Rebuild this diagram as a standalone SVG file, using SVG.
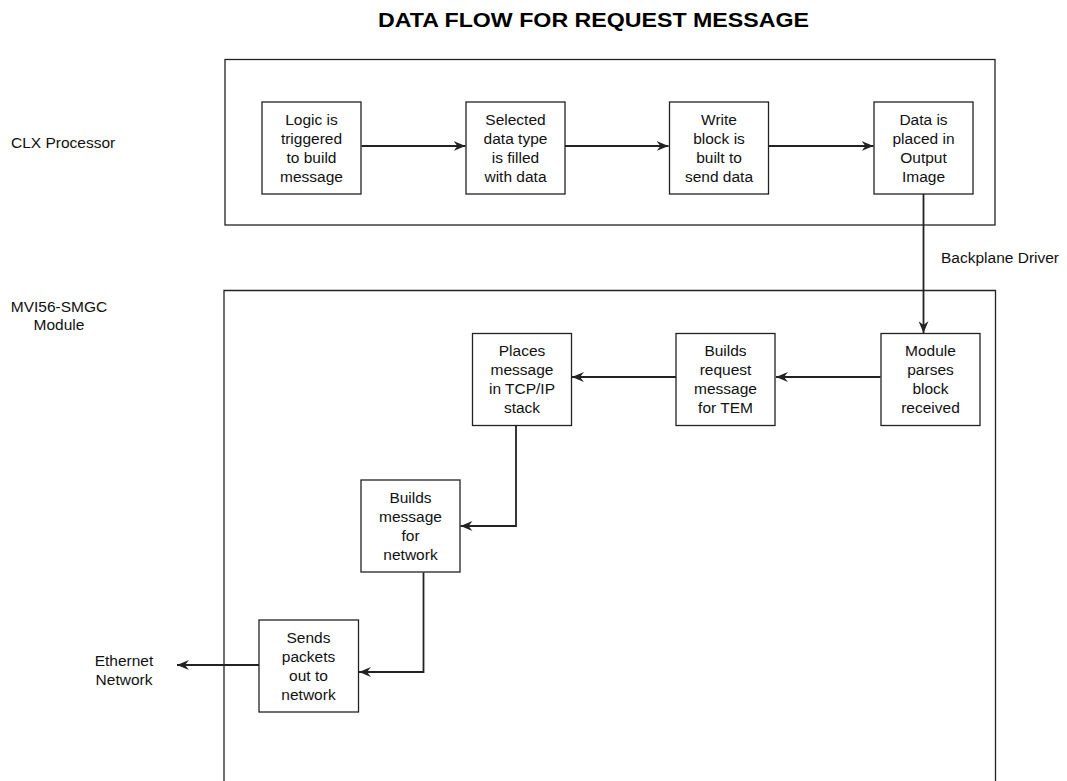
<svg xmlns="http://www.w3.org/2000/svg" width="1067" height="781" viewBox="0 0 1067 781">
<style>
.frame{fill:none;stroke:#222;stroke-width:1.3}
.box{fill:#fff;stroke:#222;stroke-width:1.3}
.t{font-family:"Liberation Sans",Arial,sans-serif;font-size:15.5px;fill:#111;text-anchor:middle}
.lbl{font-family:"Liberation Sans",Arial,sans-serif;font-size:15.5px;fill:#111}
.title{font-family:"Liberation Sans",Arial,sans-serif;font-size:20px;font-weight:bold;fill:#000;text-anchor:middle}
.c{fill:none;stroke:#222;stroke-width:1.8;marker-end:url(#ah)}
</style>
<defs>
<marker id="ah" markerUnits="userSpaceOnUse" markerWidth="14" markerHeight="10" refX="12" refY="5" orient="auto">
<path d="M0,0 L12,5 L0,10 L4,5 z" fill="#222"/>
</marker>
</defs>
<rect width="1067" height="781" fill="#fff"/>
<text class="title" x="593.5" y="27" textLength="431" lengthAdjust="spacingAndGlyphs">DATA FLOW FOR REQUEST MESSAGE</text>

<g id="clx-processor">
<rect class="frame" x="225" y="59.5" width="770" height="165.5"/>
<text class="lbl" x="11" y="148">CLX Processor</text>
</g>
<g id="mvi56-module">
<path class="frame" d="M224,800 V290.5 H995.5 V800"/>
<text class="lbl" x="59" y="312" text-anchor="middle">MVI56-SMGC</text>
<text class="lbl" x="59" y="330" text-anchor="middle">Module</text>
</g>
<g id="backplane-label"><text class="lbl" x="941" y="263">Backplane Driver</text></g>
<g id="ethernet-label">
<text class="lbl" x="124" y="666" text-anchor="middle">Ethernet</text>
<text class="lbl" x="124" y="685" text-anchor="middle">Network</text>
</g>

<g id="connectors">
<path class="c" d="M361.5,146 H465.5"/>
<path class="c" d="M565,146 H668.5"/>
<path class="c" d="M769,146 H873.5"/>
<path class="c" d="M923.5,194 V333"/>
<path class="c" d="M880.5,377 H776"/>
<path class="c" d="M676,377 H572"/>
<path class="c" d="M516,425.5 V526 H460.5"/>
<path class="c" d="M423.5,572.5 V672 H359"/>
<path class="c" d="M263,665 H177"/>
</g>

<g id="n-logic">
<rect class="box" x="262" y="102" width="99" height="92"/>
<text class="t" x="311.5" y="125">Logic is</text>
<text class="t" x="311.5" y="144">triggered</text>
<text class="t" x="311.5" y="163">to build</text>
<text class="t" x="311.5" y="182">message</text>
</g>
<g id="n-selected">
<rect class="box" x="466" y="102" width="99" height="92"/>
<text class="t" x="515.5" y="125">Selected</text>
<text class="t" x="515.5" y="144">data type</text>
<text class="t" x="515.5" y="163">is filled</text>
<text class="t" x="515.5" y="182">with data</text>
</g>
<g id="n-write">
<rect class="box" x="669.5" y="102" width="99" height="92"/>
<text class="t" x="719" y="125">Write</text>
<text class="t" x="719" y="144">block is</text>
<text class="t" x="719" y="163">built to</text>
<text class="t" x="719" y="182">send data</text>
</g>
<g id="n-output">
<rect class="box" x="874" y="102" width="99" height="92"/>
<text class="t" x="923.5" y="125">Data is</text>
<text class="t" x="923.5" y="144">placed in</text>
<text class="t" x="923.5" y="163">Output</text>
<text class="t" x="923.5" y="182">Image</text>
</g>
<g id="n-parses">
<rect class="box" x="881" y="333.5" width="99" height="92"/>
<text class="t" x="930.5" y="356">Module</text>
<text class="t" x="930.5" y="375">parses</text>
<text class="t" x="930.5" y="394">block</text>
<text class="t" x="930.5" y="413">received</text>
</g>
<g id="n-request">
<rect class="box" x="676" y="333.5" width="99" height="92"/>
<text class="t" x="725.5" y="356">Builds</text>
<text class="t" x="725.5" y="375">request</text>
<text class="t" x="725.5" y="394">message</text>
<text class="t" x="725.5" y="413">for TEM</text>
</g>
<g id="n-tcpip">
<rect class="box" x="472.5" y="333.5" width="99" height="92"/>
<text class="t" x="522" y="356">Places</text>
<text class="t" x="522" y="375">message</text>
<text class="t" x="522" y="394">in TCP/IP</text>
<text class="t" x="522" y="413">stack</text>
</g>
<g id="n-network">
<rect class="box" x="361" y="480" width="99" height="92"/>
<text class="t" x="410.5" y="503">Builds</text>
<text class="t" x="410.5" y="522">message</text>
<text class="t" x="410.5" y="541">for</text>
<text class="t" x="410.5" y="560">network</text>
</g>
<g id="n-sends">
<rect class="box" x="259" y="620" width="99.5" height="92"/>
<text class="t" x="308.5" y="643">Sends</text>
<text class="t" x="308.5" y="662">packets</text>
<text class="t" x="308.5" y="681">out to</text>
<text class="t" x="308.5" y="700">network</text>
</g>
</svg>
